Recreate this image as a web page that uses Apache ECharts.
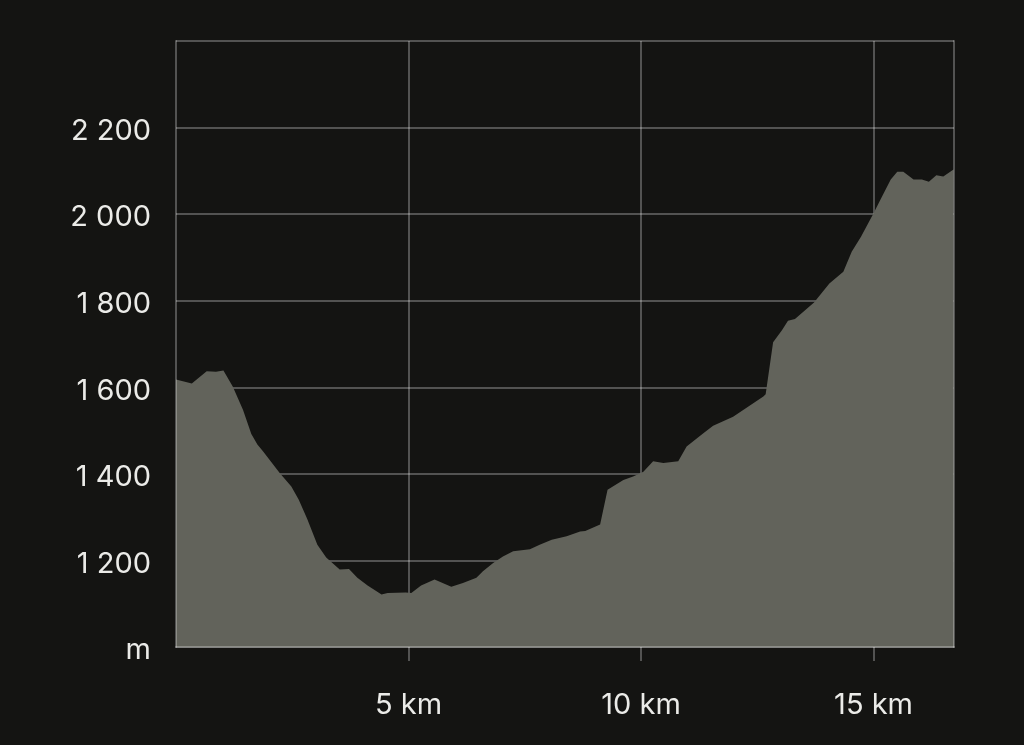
<!DOCTYPE html>
<html>
<head>
<meta charset="utf-8">
<script src="https://cdn.jsdelivr.net/npm/echarts@6/dist/echarts.min.js"></script>
<style>
html,body{margin:0;padding:0;background:#141412;}
#chart{width:1024px;height:745px;}
</style>
</head>
<body>
<div id="chart"></div>
<script>
const distanceKm = [0,0.34,0.66,0.86,1.02,1.22,1.44,1.62,1.75,1.87,2.23,2.48,2.64,2.82,3.04,3.23,3.52,3.72,3.90,4.12,4.42,4.55,4.94,5.06,5.27,5.56,5.92,6.17,6.46,6.60,6.82,7.03,7.25,7.61,7.82,8.08,8.40,8.69,8.80,9.12,9.15,9.28,9.62,9.83,10.05,10.26,10.48,10.80,10.98,11.34,11.55,11.98,12.63,12.68,12.84,13.03,13.16,13.31,13.72,14.05,14.35,14.53,14.73,15.00,15.18,15.37,15.51,15.64,15.86,16.04,16.19,16.35,16.50,16.72,16.73];
const elevationM = [1618,1609,1637,1636,1639,1602,1548,1492,1468,1452,1402,1371,1340,1296,1236,1207,1179,1180,1160,1142,1121,1125,1126,1125,1142,1156,1139,1148,1160,1175,1194,1209,1221,1226,1236,1248,1256,1267,1268,1283,1286,1363,1386,1394,1405,1429,1425,1429,1463,1494,1511,1532,1579,1584,1704,1732,1754,1758,1796,1840,1867,1913,1948,2002,2040,2080,2098,2098,2080,2080,2075,2090,2087,2103,2104];
const xTickValues = [5,10,15];
const xTickLabels = ['5 km','10 km','15 km'];
const yTickValues = [1000,1200,1400,1600,1800,2000,2200];
const yTickLabels = ['m','1 200','1 400','1 600','1 800','2 000','2 200'];
const xMin = 0, xMax = 16.73, yMin = 1000, yMax = 2400;

const lineColor = 'rgba(255,255,255,0.27)';
const textColor = '#ebebe8';
const fontFamily = 'Inter, "Noto Sans", sans-serif';

const chart = echarts.init(document.getElementById('chart'), null, {renderer:'canvas'});
chart.setOption({
  backgroundColor: '#141412',
  animation: false,
  grid: {left: 176, right: 70, top: 41, bottom: 98},
  xAxis: [
    {
      type: 'value', min: xMin, max: xMax, interval: 5, z: 0,
      axisLine: {show: false},
      axisTick: {show: true, length: 14, customValues: xTickValues, lineStyle: {color: lineColor, width: 2}},
      splitLine: {show: true, lineStyle: {color: lineColor, width: 2}},
      axisLabel: {
        show: true, customValues: xTickValues, margin: 44,
        color: textColor, fontSize: 29, fontFamily: fontFamily,
        formatter: v => xTickLabels[xTickValues.indexOf(v)]
      }
    },
    {
      type: 'value', min: xMin, max: xMax, position: 'bottom', z: 5,
      axisLine: {show: true, onZero: false, lineStyle: {color: lineColor, width: 2}},
      axisTick: {show: false}, splitLine: {show: false}, axisLabel: {show: false}
    }
  ],
  yAxis: [
    {
      type: 'value', min: yMin, max: yMax, interval: 200, z: 0,
      axisLine: {show: false}, axisTick: {show: false},
      splitLine: {show: true, lineStyle: {color: lineColor, width: 2}},
      axisLabel: {
        show: true, customValues: yTickValues, margin: 25,
        formatter: v => '{a|' + yTickLabels[yTickValues.indexOf(v)] + '}',
        rich: {
          a: {color: textColor, fontSize: 29, fontFamily: fontFamily, padding: [7, 0, 0, 0]}
        }
      }
    },
    {
      type: 'value', min: yMin, max: yMax, position: 'left', z: 5,
      axisLine: {show: true, onZero: false, lineStyle: {color: lineColor, width: 2}},
      axisTick: {show: false}, splitLine: {show: false}, axisLabel: {show: false}
    },
    {
      type: 'value', min: yMin, max: yMax, position: 'right', z: 5,
      axisLine: {show: true, onZero: false, lineStyle: {color: lineColor, width: 2}},
      axisTick: {show: false}, splitLine: {show: false}, axisLabel: {show: false}
    }
  ],
  series: [{
    type: 'line',
    xAxisIndex: 0, yAxisIndex: 0,
    data: distanceKm.map((d, i) => [d, elevationM[i]]),
    showSymbol: false, symbol: 'none',
    lineStyle: {width: 0},
    areaStyle: {color: '#62635b', opacity: 1, origin: 'start'},
    z: 2, silent: true
  }]
});
</script>
</body>
</html>
